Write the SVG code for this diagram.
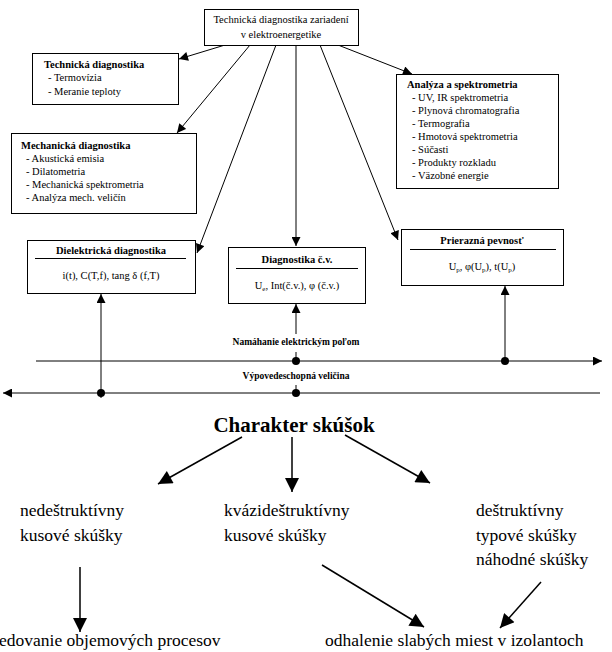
<svg xmlns="http://www.w3.org/2000/svg" width="612" height="652" viewBox="0 0 612 652">
<defs>
<marker id="a" viewBox="0 0 10 10" refX="10" refY="5" markerWidth="10" markerHeight="9" markerUnits="userSpaceOnUse" orient="auto"><path d="M0,0 L10,5 L0,10 Z" fill="#000"/></marker>
<marker id="b" viewBox="0 0 10 10" refX="10" refY="5" markerWidth="17" markerHeight="14" markerUnits="userSpaceOnUse" orient="auto"><path d="M0,0 L10,5 L0,10 Z" fill="#000"/></marker>
</defs>
<rect width="612" height="652" fill="#fff"/>
<g id="connectors" stroke="#000" stroke-width="1" fill="none">
<line x1="225" y1="45" x2="179" y2="59" marker-end="url(#a)"/>
<line x1="250" y1="45" x2="177" y2="133" marker-end="url(#a)"/>
<line x1="276" y1="45" x2="197" y2="253" marker-end="url(#a)"/>
<line x1="296" y1="45" x2="296" y2="246" marker-end="url(#a)"/>
<line x1="320" y1="45" x2="398" y2="240" marker-end="url(#a)"/>
<line x1="338" y1="45" x2="412" y2="74" marker-end="url(#a)"/>
<line x1="36" y1="361" x2="602" y2="361" marker-end="url(#a)"/>
<line x1="600" y1="393" x2="3" y2="393" marker-end="url(#a)"/>
<line x1="101" y1="398" x2="101" y2="294" marker-end="url(#a)"/>
<line x1="505" y1="361" x2="505" y2="286" marker-end="url(#a)"/>
<line x1="296" y1="334" x2="296" y2="304" marker-end="url(#a)"/>
<line x1="296" y1="361" x2="296" y2="352"/>
<line x1="296" y1="393" x2="296" y2="385"/>
<g fill="#000" stroke="none">
<circle cx="296" cy="361" r="4"/>
<circle cx="505" cy="361" r="4"/>
<circle cx="101" cy="393" r="4"/>
<circle cx="296" cy="393" r="4"/>
</g>
<g stroke-width="1.5">
<line x1="242" y1="437" x2="158" y2="484" marker-end="url(#b)"/>
<line x1="292" y1="437" x2="292" y2="492" marker-end="url(#b)"/>
<line x1="345" y1="435" x2="430" y2="483" marker-end="url(#b)"/>
<line x1="80" y1="567" x2="80" y2="632" marker-end="url(#b)"/>
<line x1="322" y1="565" x2="424" y2="627" marker-end="url(#b)"/>
<line x1="541" y1="582" x2="500" y2="628" marker-end="url(#b)"/>
</g>
</g>
<g font-size="10.5" fill="#000">
<g id="top">
<rect x="204.5" y="9.5" width="154" height="36" fill="#fff" stroke="#000"/>
<text style="font-family:'Liberation Serif',serif" x="281" y="23" text-anchor="middle">Technická diagnostika zariadení</text>
<text style="font-family:'Liberation Serif',serif" x="281" y="38" text-anchor="middle">v elektroenergetike</text>
</g>
<g id="technicka">
<rect x="32.5" y="53.5" width="146" height="51" fill="#fff" stroke="#000"/>
<text style="font-family:'Liberation Serif',serif" x="44" y="68" font-weight="bold">Technická diagnostika</text>
<text style="font-family:'Liberation Serif',serif" x="48" y="81">-  Termovízia</text>
<text style="font-family:'Liberation Serif',serif" x="48" y="95">-  Meranie teploty</text>
</g>
<g id="analyza">
<rect x="396.5" y="74.5" width="162" height="114" fill="#fff" stroke="#000"/>
<text style="font-family:'Liberation Serif',serif" x="407" y="88" font-weight="bold">Analýza a spektrometria</text>
<text style="font-family:'Liberation Serif',serif" x="412" y="101">-  UV, IR spektrometria</text>
<text style="font-family:'Liberation Serif',serif" x="412" y="114">-  Plynová chromatografia</text>
<text style="font-family:'Liberation Serif',serif" x="412" y="127">-  Termografia</text>
<text style="font-family:'Liberation Serif',serif" x="412" y="140">-  Hmotová spektrometria</text>
<text style="font-family:'Liberation Serif',serif" x="412" y="153">-  Súčasti</text>
<text style="font-family:'Liberation Serif',serif" x="412" y="166">-  Produkty rozkladu</text>
<text style="font-family:'Liberation Serif',serif" x="412" y="179">-  Väzobné energie</text>
</g>
<g id="mechanicka">
<rect x="11.5" y="133.5" width="185" height="80" fill="#fff" stroke="#000"/>
<text style="font-family:'Liberation Serif',serif" x="21" y="149" font-weight="bold">Mechanická diagnostika</text>
<text style="font-family:'Liberation Serif',serif" x="26" y="162">-  Akustická emisia</text>
<text style="font-family:'Liberation Serif',serif" x="26" y="175">-  Dilatometria</text>
<text style="font-family:'Liberation Serif',serif" x="26" y="188">-  Mechanická spektrometria</text>
<text style="font-family:'Liberation Serif',serif" x="26" y="201">-  Analýza mech. veličín</text>
</g>
<g id="dielektricka">
<rect x="27.5" y="240.5" width="168" height="53" fill="#fff" stroke="#000"/>
<text style="font-family:'Liberation Serif',serif" x="111" y="254" font-weight="bold" text-anchor="middle">Dielektrická  diagnostika</text>
<line x1="35" y1="258.5" x2="186" y2="258.5" stroke="#000"/>
<text style="font-family:'Liberation Serif',serif" x="111" y="279" text-anchor="middle">i(t), C(T,f), tang δ (f,T)</text>
</g>
<g id="cv">
<rect x="228.5" y="247.5" width="137" height="56" fill="#fff" stroke="#000"/>
<text style="font-family:'Liberation Serif',serif" x="297" y="263" font-weight="bold" text-anchor="middle">Diagnostika č.v.</text>
<line x1="236" y1="268.5" x2="358" y2="268.5" stroke="#000"/>
<text style="font-family:'Liberation Serif',serif" x="297" y="289" text-anchor="middle">U<tspan font-size="7" dy="2">e</tspan><tspan dy="-2">, Int(č.v.), φ (č.v.)</tspan></text>
</g>
<g id="prierazna">
<rect x="401.5" y="229.5" width="162" height="56" fill="#fff" stroke="#000"/>
<text style="font-family:'Liberation Serif',serif" x="482" y="244" font-weight="bold" text-anchor="middle">Prierazná pevnosť</text>
<line x1="410" y1="249.5" x2="556" y2="249.5" stroke="#000"/>
<text style="font-family:'Liberation Serif',serif" x="482" y="270" text-anchor="middle">U<tspan font-size="7" dy="2">p</tspan><tspan dy="-2">, φ(U</tspan><tspan font-size="7" dy="2">p</tspan><tspan dy="-2">),  t(U</tspan><tspan font-size="7" dy="2">p</tspan><tspan dy="-2">)</tspan></text>
</g>
<g id="labels" font-size="9.5" font-weight="bold" text-anchor="middle">
<text style="font-family:'Liberation Serif',serif" x="296" y="345">Namáhanie elektrickým poľom</text>
<text style="font-family:'Liberation Serif',serif" x="296" y="379">Výpovedeschopná veličina</text>
</g>
<g id="charakter">
<text style="font-family:'Liberation Serif',serif" x="294" y="432" font-size="21" font-weight="bold" text-anchor="middle">Charakter skúšok</text>
</g>
<g font-size="17.5">
<g id="nedestruktivny">
<text style="font-family:'Liberation Serif',serif" x="20" y="516">nedeštruktívny</text>
<text style="font-family:'Liberation Serif',serif" x="20" y="541">kusové skúšky</text>
</g>
<g id="kvazi">
<text style="font-family:'Liberation Serif',serif" x="224" y="516">kvázideštruktívny</text>
<text style="font-family:'Liberation Serif',serif" x="224" y="541">kusové skúšky</text>
</g>
<g id="destruktivny">
<text style="font-family:'Liberation Serif',serif" x="476" y="516">deštruktívny</text>
<text style="font-family:'Liberation Serif',serif" x="476" y="541">typové skúšky</text>
<text style="font-family:'Liberation Serif',serif" x="476" y="565">náhodné skúšky</text>
</g>
<g id="sledovanie">
<text style="font-family:'Liberation Serif',serif" x="-1" y="646">edovanie objemových procesov</text>
</g>
<g id="odhalenie">
<text style="font-family:'Liberation Serif',serif" x="325" y="646">odhalenie slabých miest v izolantoch</text>
</g>
</g>
</g>
</svg>
